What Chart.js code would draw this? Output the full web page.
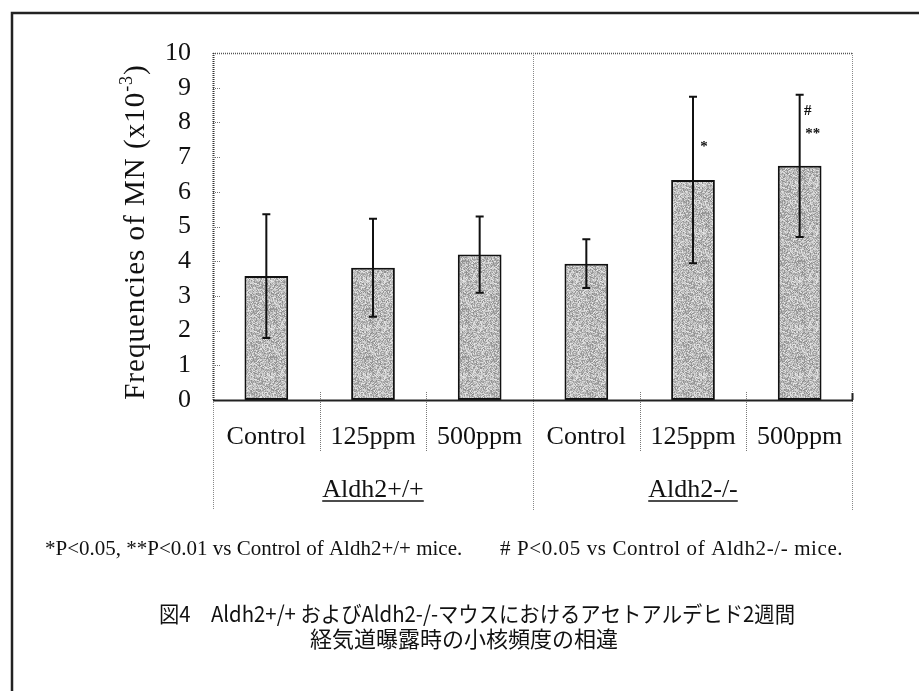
<!DOCTYPE html>
<html>
<head>
<meta charset="utf-8">
<script src="https://cdn.jsdelivr.net/npm/chart.js@4.4.1/dist/chart.umd.min.js"></script>
<style>
  html, body { margin: 0; padding: 0; background: #fff; }
  canvas { display: block; }
</style>
</head>
<body>
<canvas id="mn" width="919" height="691"></canvas>
<script>
// Micronucleus frequencies (x10^-3), mean and SD per exposure group
const categories = ['Control', '125ppm', '500ppm', 'Control', '125ppm', '500ppm'];
const genotypes = ['Aldh2+/+', 'Aldh2-/-'];
const meanMN = [3.57, 3.81, 4.19, 3.93, 6.34, 6.75];
const sdMN = [1.78, 1.41, 1.10, 0.70, 2.40, 2.05];
const yTicks = [0, 1, 2, 3, 4, 5, 6, 7, 8, 9, 10];
// significance marks: [category index, value level, text, x offset]
const marks = [[4, 7.29, '*', 11], [5, 8.33, '#', 8], [5, 7.67, '**', 13]];
const footLeft = '*P<0.05, **P<0.01 vs Control of Aldh2+/+ mice.';
const footRight = '# P<0.05 vs Control of Aldh2-/- mice.';
const captionLines = ['図4　Aldh2+/+ およびAldh2-/-マウスにおけるアセトアルデヒド2週間', '経気道曝露時の小核頻度の相違'];

const SERIF = '"Liberation Serif", "Times New Roman", serif';
const GOTHIC = '"Noto Sans CJK JP", sans-serif';

// grainy light-grey fill for the bars (deterministic hash texture)
function stipple() {
  const n = 48;
  const c = document.createElement('canvas');
  c.width = c.height = n;
  const g = c.getContext('2d');
  const img = g.createImageData(n, n);
  for (let i = 0; i < n * n; i++) {
    let h = Math.imul(i + 7, 2654435761) >>> 0;
    h ^= h >>> 15; h = Math.imul(h, 2246822519) >>> 0; h ^= h >>> 13;
    const v = 186 + (h % 48);
    img.data[i * 4] = v; img.data[i * 4 + 1] = v; img.data[i * 4 + 2] = v; img.data[i * 4 + 3] = 255;
  }
  g.putImageData(img, 0, 0);
  return g.createPattern(c, 'repeat');
}

function dotted(ctx, x1, y1, x2, y2, color, width) {
  ctx.save();
  ctx.strokeStyle = color;
  ctx.lineWidth = width || 1;
  ctx.setLineDash([1, 1]);
  ctx.beginPath();
  ctx.moveTo(x1, y1);
  ctx.lineTo(x2, y2);
  ctx.stroke();
  ctx.restore();
}

const decor = {
  id: 'decor',
  afterDatasetsDraw(chart) {
    const { ctx, chartArea: a, scales: { x, y } } = chart;
    const half = (x.getPixelForValue(1) - x.getPixelForValue(0)) / 2;

    // plot frame
    dotted(ctx, a.left, a.top + 0.5, a.right, a.top + 0.5, '#555', 1.5);
    dotted(ctx, a.right - 0.5, a.top, a.right - 0.5, 510, '#888', 1);
    dotted(ctx, a.left + 0.5, a.top, a.left + 0.5, a.bottom, '#333', 2);
    dotted(ctx, a.left + 0.5, a.bottom, a.left + 0.5, 510, '#888', 1);

    // inward y ticks
    yTicks.slice(1, -1).forEach(v => {
      const py = Math.round(y.getPixelForValue(v)) + 0.5;
      dotted(ctx, a.left, py, a.left + 7, py, '#777', 1);
    });

    // separators between categories and between genotypes
    categories.forEach((_, i) => {
      if (i === 0) return;
      const px = Math.round(x.getPixelForValue(i) - half) + 0.5;
      if (i % 3 === 0) {
        dotted(ctx, px, a.top, px, 510, '#888', 1);
      } else {
        dotted(ctx, px, a.bottom - 8, px, 452, '#777', 1);
      }
    });

    // error bars (mean ± SD)
    ctx.save();
    ctx.strokeStyle = '#111';
    ctx.lineWidth = 2;
    meanMN.forEach((m, i) => {
      const px = x.getPixelForValue(i);
      const hi = y.getPixelForValue(m + sdMN[i]);
      const lo = y.getPixelForValue(m - sdMN[i]);
      ctx.beginPath();
      ctx.moveTo(px, hi); ctx.lineTo(px, lo);
      ctx.moveTo(px - 4, hi); ctx.lineTo(px + 4, hi);
      ctx.moveTo(px - 4, lo); ctx.lineTo(px + 4, lo);
      ctx.stroke();
    });
    ctx.restore();

    // x axis line
    ctx.save();
    ctx.strokeStyle = '#222';
    ctx.lineWidth = 2;
    ctx.beginPath();
    ctx.moveTo(a.left, a.bottom + 0.5);
    ctx.lineTo(a.right, a.bottom + 0.5);
    ctx.moveTo(a.right - 0.5, a.bottom);
    ctx.lineTo(a.right - 0.5, a.bottom - 7);
    ctx.stroke();
    ctx.restore();

    // significance marks
    ctx.save();
    ctx.fillStyle = '#111';
    ctx.font = 'bold 15px ' + SERIF;
    ctx.textAlign = 'center';
    ctx.textBaseline = 'middle';
    marks.forEach(([i, v, t, dx]) => {
      ctx.fillText(t, x.getPixelForValue(i) + dx, y.getPixelForValue(v));
    });
    ctx.restore();
  },
  afterDraw(chart) {
    const { ctx, chartArea: a, scales: { x } } = chart;

    // y-axis title with superscript exponent
    ctx.save();
    ctx.fillStyle = '#111';
    ctx.letterSpacing = '1px';
    const main = 'Frequencies of MN (x10';
    const sup = '-3';
    const close = ')';
    ctx.font = '29px ' + SERIF;
    const w1 = ctx.measureText(main).width;
    const w3 = ctx.measureText(close).width;
    ctx.font = '18px ' + SERIF;
    const w2 = ctx.measureText(sup).width;
    const total = w1 + w2 + w3;
    ctx.translate(144, 232);
    ctx.rotate(-Math.PI / 2);
    ctx.textBaseline = 'alphabetic';
    ctx.textAlign = 'left';
    let sx = -total / 2;
    ctx.font = '29px ' + SERIF;
    ctx.fillText(main, sx, 0);
    sx += w1;
    ctx.font = '18px ' + SERIF;
    ctx.fillText(sup, sx, -12);
    sx += w2;
    ctx.font = '29px ' + SERIF;
    ctx.fillText(close, sx, 0);
    ctx.restore();

    // genotype group labels, underlined
    ctx.save();
    ctx.fillStyle = '#111';
    ctx.strokeStyle = '#111';
    ctx.font = '26px ' + SERIF;
    ctx.textAlign = 'center';
    ctx.textBaseline = 'alphabetic';
    genotypes.forEach((g, k) => {
      const cx = x.getPixelForValue(k * 3 + 1);
      ctx.fillText(g, cx, 497);
      const w = ctx.measureText(g).width;
      ctx.lineWidth = 1.5;
      ctx.beginPath();
      ctx.moveTo(cx - w / 2, 501);
      ctx.lineTo(cx + w / 2, 501);
      ctx.stroke();
    });
    ctx.restore();

    // footnote
    ctx.save();
    ctx.fillStyle = '#111';
    ctx.font = '21px ' + SERIF;
    ctx.textBaseline = 'alphabetic';
    ctx.textAlign = 'left';
    ctx.fillText(footLeft, 45, 555);
    ctx.letterSpacing = '0.6px';
    ctx.fillText(footRight, 500, 555);
    ctx.restore();

    // caption
    ctx.save();
    ctx.fillStyle = '#111';
    ctx.font = '22px ' + GOTHIC;
    ctx.textAlign = 'center';
    ctx.textBaseline = 'alphabetic';
    ctx.fillText(captionLines[0], 477, 622, 636);
    ctx.fillText(captionLines[1], 464, 647);
    ctx.restore();

    // outer frame (top and left edges)
    ctx.save();
    ctx.strokeStyle = '#222';
    ctx.lineWidth = 2.5;
    ctx.beginPath();
    ctx.moveTo(12, 691);
    ctx.lineTo(12, 13);
    ctx.lineTo(919, 13);
    ctx.stroke();
    ctx.restore();
  }
};

new Chart(document.getElementById('mn'), {
  type: 'bar',
  data: {
    labels: categories,
    datasets: [{
      data: meanMN,
      backgroundColor: stipple(),
      borderColor: '#111',
      borderWidth: 2,
      borderSkipped: false,
      categoryPercentage: 1,
      barPercentage: 0.41
    }]
  },
  options: {
    responsive: false,
    animation: false,
    events: [],
    layout: { padding: { left: 110, right: 66, top: 53, bottom: 0 } },
    plugins: { legend: { display: false }, tooltip: { enabled: false } },
    scales: {
      x: {
        grid: { display: false, drawTicks: false },
        border: { display: false },
        ticks: { color: '#111', font: { family: SERIF, size: 26 }, padding: 22, maxRotation: 0 },
        afterFit(s) { s.height = 291; }
      },
      y: {
        min: 0, max: 10,
        grid: { display: false, drawTicks: false },
        border: { display: false },
        ticks: { stepSize: 1, color: '#111', font: { family: SERIF, size: 26 }, padding: 22 },
        afterFit(s) { s.width = 103; }
      }
    }
  },
  plugins: [decor]
});
</script>
</body>
</html>
